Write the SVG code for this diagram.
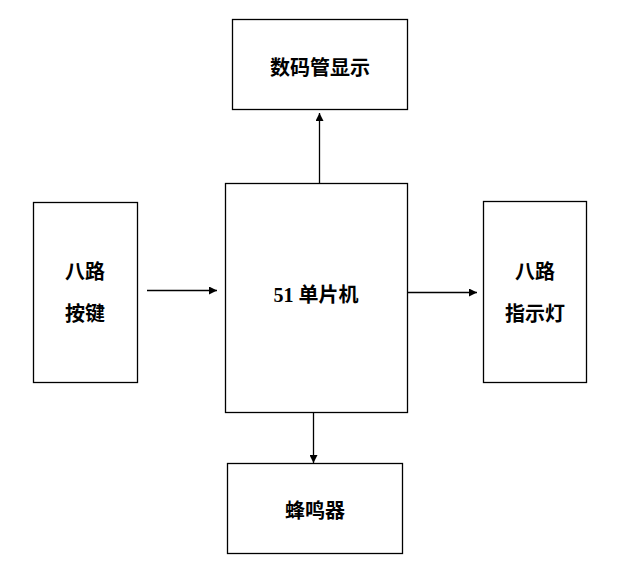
<svg xmlns="http://www.w3.org/2000/svg" width="636" height="582" viewBox="0 0 636 582">
<style>
.box{fill:#fff;stroke:#000;stroke-width:1.3}
.t{font-family:"Liberation Serif","Noto Sans CJK SC",serif;font-size:20px;font-weight:bold;fill:#000;text-anchor:middle}
.c{stroke:#000;stroke-width:1.3;fill:none;marker-end:url(#ah)}
</style>
<defs>
<marker id="ah" viewBox="0 0 10 10" refX="10" refY="5" markerWidth="9" markerHeight="8" markerUnits="userSpaceOnUse" orient="auto">
<path d="M0,0 L10,5 L0,10 z" fill="#000"/>
</marker>
</defs>
<rect width="636" height="582" fill="#fff"/>
<g id="display"><rect class="box" x="232.5" y="19.5" width="175" height="90"/><text class="t" x="320" y="75">数码管显示</text></g>
<g id="mcu"><rect class="box" x="225.5" y="183.5" width="182" height="229"/><text class="t" x="316" y="302">51 单片机</text></g>
<g id="keys"><rect class="box" x="33.5" y="202.5" width="104" height="180"/><text class="t" x="85" y="279">八路</text><text class="t" x="85" y="321">按键</text></g>
<g id="leds"><rect class="box" x="483.5" y="201.5" width="103" height="181"/><text class="t" x="535" y="279">八路</text><text class="t" x="535" y="321">指示灯</text></g>
<g id="buzzer"><rect class="box" x="227.5" y="463.5" width="175" height="90"/><text class="t" x="315" y="518">蜂鸣器</text></g>
<g id="connectors">
<line class="c" x1="319.5" y1="183" x2="319.5" y2="113"/>
<line class="c" x1="147" y1="290.5" x2="217" y2="290.5"/>
<line class="c" x1="407" y1="292.5" x2="477" y2="292.5"/>
<line class="c" x1="313.5" y1="413" x2="313.5" y2="463"/>
</g>
</svg>
